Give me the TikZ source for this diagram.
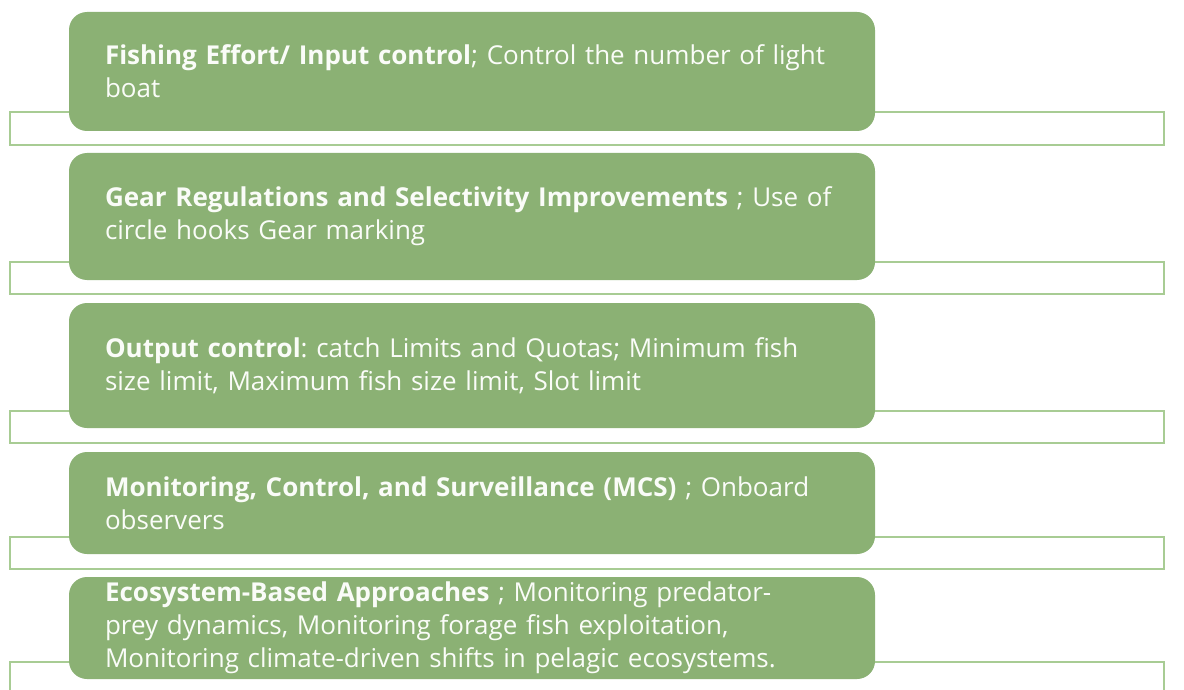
\documentclass[tikz,border=0pt]{standalone}
\usepackage{fontspec}
\setmainfont{Open Sans}
\frenchspacing
\definecolor{boxgreen}{RGB}{139,177,116}
\definecolor{bandgreen}{RGB}{168,204,148}
\definecolor{txt}{RGB}{250,252,248}
\tikzset{
  band/.style={draw=bandgreen, line width=1.5pt, fill=white, rectangle, minimum width=1154pt, inner sep=0pt},
  item/.style={fill=boxgreen, draw=none, rectangle, rounded corners=18pt, text=txt,
    text width=734pt, inner xsep=36pt, inner ysep=0pt, align=left,
    font=\fontsize{26}{33}\selectfont},
}
\begin{document}
\begin{tikzpicture}[x=1pt,y=-1pt]
\useasboundingbox (0,0) rectangle (1184,690);
\clip (0,0) rectangle (1184,690);
\node[band, minimum height=33pt] (r1) at (587,128.5) {};
\node[band, minimum height=32pt] (r2) at (587,278) {};
\node[band, minimum height=32pt] (r3) at (587,427) {};
\node[band, minimum height=32pt] (r4) at (587,553) {};
\node[band, minimum height=32pt] (r5) at (587,678) {};
\node[item, minimum height=119pt] (b1) at (472,71.5) {\textbf{Fishing Effort/ Input control}; Control the number of light\\boat};
\node[item, minimum height=127pt] (b2) at (472,216.5) {\textbf{Gear Regulations and Selectivity Improvements} ; Use of\\circle hooks Gear marking};
\node[item, minimum height=125pt] (b3) at (472,365.5) {\textbf{Output control}: catch Limits and Quotas; Minimum fish\\size limit, Maximum fish size limit, Slot limit};
\node[item, minimum height=102pt] (b4) at (472,503) {\textbf{Monitoring, Control, and Surveillance (MCS)} ; Onboard\\observers};
\node[item, minimum height=102pt] (b5) at (472,628) {\textbf{Ecosystem-Based Approaches} ; Monitoring predator-\\prey dynamics, Monitoring forage fish exploitation,\\Monitoring climate-driven shifts in pelagic ecosystems.};
\end{tikzpicture}
\end{document}
